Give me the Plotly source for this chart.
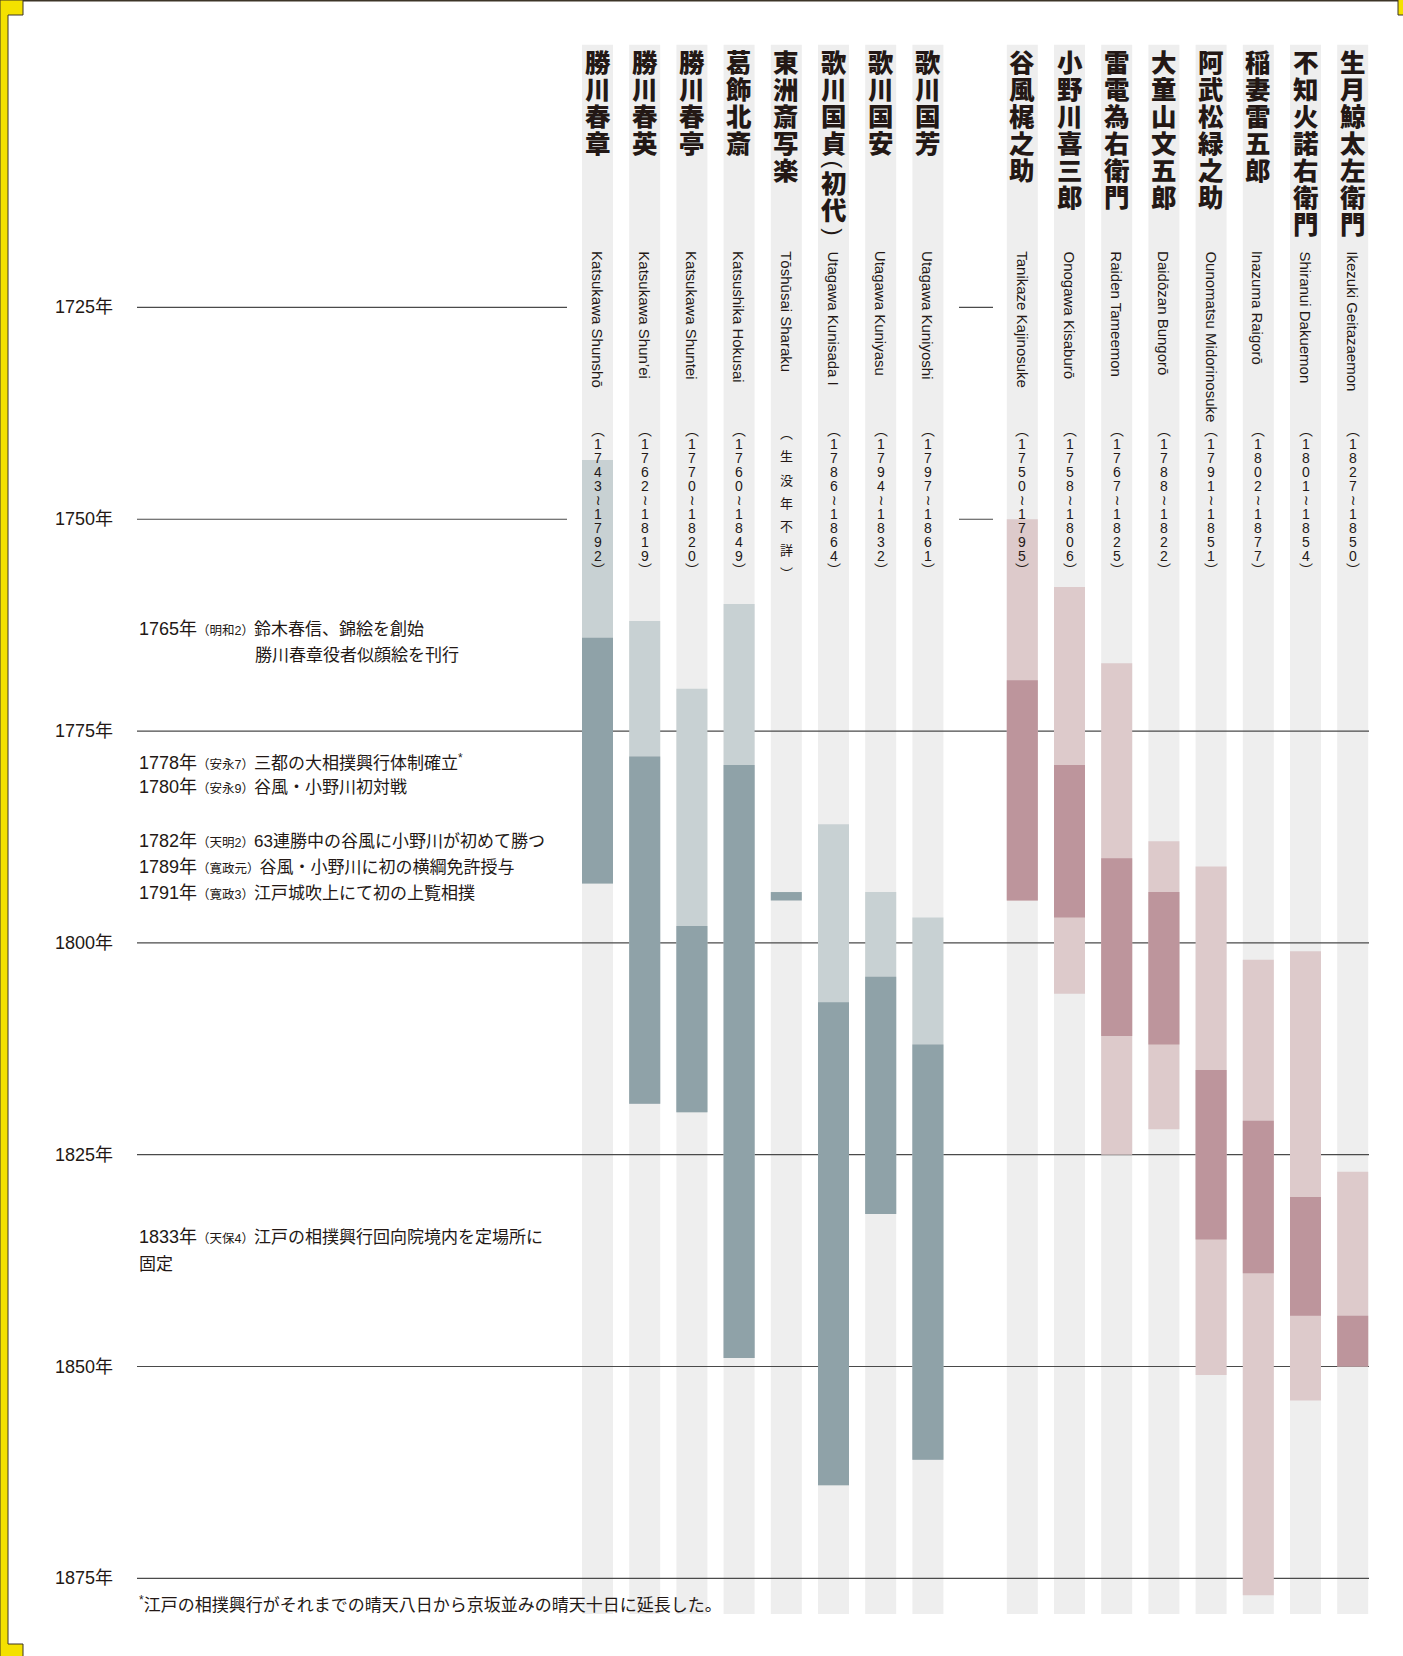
import plotly.graph_objects as go

W, H = 1403, 1656
INK = "#231815"
JP = "Noto Sans CJK JP"
NAMEF = "Liberation Serif, Noto Sans CJK JP"
LAT = "Liberation Sans, DejaVu Sans, Noto Sans CJK JP"

# ---------------- data ----------------
ukiyoe_names = ["勝川春章", "勝川春英", "勝川春亭", "葛飾北斎", "東洲斎写楽",
                "歌川国貞（初代）", "歌川国安", "歌川国芳"]
ukiyoe_romaji = ["Katsukawa Shunshō", "Katsukawa Shun’ei", "Katsukawa Shuntei",
                 "Katsushika Hokusai", "Tōshūsai Sharaku", "Utagawa Kunisada I",
                 "Utagawa Kuniyasu", "Utagawa Kuniyoshi"]
ukiyoe_dates = ["（1743～1792）", "（1762～1819）", "（1770～1820）", "（1760～1849）",
                "（生没年不詳）", "（1786～1864）", "（1794～1832）", "（1797～1861）"]
ukiyoe_life_start = [1743, 1762, 1770, 1760, None, 1786, 1794, 1797]
ukiyoe_life_end = [1793, 1819, 1820, 1849, None, 1864, 1832, 1861]
ukiyoe_active_start = [1764, 1778, 1798, 1779, 1794, 1807, 1804, 1812]
ukiyoe_active_end = [1793, 1819, 1820, 1849, 1795, 1864, 1832, 1861]

sumo_names = ["谷風梶之助", "小野川喜三郎", "雷電為右衛門", "大童山文五郎",
              "阿武松緑之助", "稲妻雷五郎", "不知火諾右衛門", "生月鯨太左衛門"]
sumo_romaji = ["Tanikaze Kajinosuke", "Onogawa Kisaburō", "Raiden Tameemon",
               "Daidōzan Bungorō", "Ounomatsu Midorinosuke", "Inazuma Raigorō",
               "Shiranui Dakuemon", "Ikezuki Geitazaemon"]
sumo_dates = ["（1750～1795）", "（1758～1806）", "（1767～1825）", "（1788～1822）",
              "（1791～1851）", "（1802～1877）", "（1801～1854）", "（1827～1850）"]
sumo_life_start = [1750, 1758, 1767, 1788, 1791, 1802, 1801, 1827]
sumo_life_end = [1795, 1806, 1825, 1822, 1851, 1877, 1854, 1850]
sumo_active_start = [1769, 1779, 1790, 1794, 1815, 1821, 1830, 1844]
sumo_active_end = [1795, 1797, 1811, 1812, 1835, 1839, 1844, 1850]

year_ticks = [1725, 1750, 1775, 1800, 1825, 1850, 1875]
tick_suffix = "年"
partial_grid_years = [1725, 1750]

event_years = ["1765年", "", "1778年", "1780年", "1782年", "1789年", "1791年", "1833年", ""]
event_eras = ["（明和2）", "", "（安永7）", "（安永9）", "（天明2）", "（寛政元）", "（寛政3）", "（天保4）", ""]
event_texts = ["鈴木春信、錦絵を創始", "勝川春章役者似顔絵を刊行", "三都の大相撲興行体制確立<sup>*</sup>",
               "谷風・小野川初対戦", "63連勝中の谷風に小野川が初めて勝つ", "谷風・小野川に初の横綱免許授与",
               "江戸城吹上にて初の上覧相撲", "江戸の相撲興行回向院境内を定場所に", "固定"]
footnote = "<sup>*</sup>江戸の相撲興行がそれまでの晴天八日から京坂並みの晴天十日に延長した。"

# ---------------- layout constants ----------------
ukiyoe_pos = list(range(0, 8))
sumo_pos = list(range(9, 17))
X0, DX = 597.5, 47.2          # pixel centre of column 0, pixel spacing
Y0, DY, YREF = 307.4, 8.473, 1725
BAR_W = 31 / DX
COL_TOP, COL_BOTTOM = 1694.0, 1879.2
LS = 1.3                       # plotly line spacing (em)

COL_UK_DARK, COL_UK_LIGHT = "#8fa2a8", "#c8d1d3"
COL_SU_DARK, COL_SU_LIGHT = "#bd959c", "#ddcacb"
COL_BG = "#eeeeee"
GRID = "#4a4a4a"
YELLOW = "#f4e100"
EDGE = "#3c3427"


def px_x(px):
    return (px - X0) / DX


def px_y(py):
    return YREF + (py - Y0) / DY


def pap_x(px):
    return px / W


def pap_y(py):
    return 1 - py / H


fig = go.Figure()


def bar_trace(pos, s, e, color):
    xs, bs, ls = [], [], []
    for p, a, b in zip(pos, s, e):
        if a is None:
            continue
        xs.append(p)
        bs.append(a)
        ls.append(b - a)
    return go.Bar(x=xs, y=ls, base=bs, width=BAR_W, marker=dict(color=color, line=dict(width=0)),
                  textposition="none", hoverinfo="skip", showlegend=False)


fig.add_trace(bar_trace(ukiyoe_pos, ukiyoe_life_start, ukiyoe_life_end, COL_UK_LIGHT))
fig.add_trace(bar_trace(ukiyoe_pos, ukiyoe_active_start, ukiyoe_active_end, COL_UK_DARK))
fig.add_trace(bar_trace(sumo_pos, sumo_life_start, sumo_life_end, COL_SU_LIGHT))
fig.add_trace(bar_trace(sumo_pos, sumo_active_start, sumo_active_end, COL_SU_DARK))

shapes = []
for p in ukiyoe_pos + sumo_pos:
    shapes.append(dict(type="rect", xref="x", yref="y", layer="below",
                       x0=p - BAR_W / 2, x1=p + BAR_W / 2, y0=COL_TOP, y1=COL_BOTTOM,
                       fillcolor=COL_BG, line=dict(width=0)))
for yv in year_ticks:
    if yv in partial_grid_years:
        segs = [(px_x(137), px_x(567)), (px_x(959), px_x(993))]
    else:
        segs = [(px_x(137), px_x(1369))]
    for a, b in segs:
        shapes.append(dict(type="line", xref="x", yref="y", layer="below",
                           x0=a, x1=b, y0=yv, y1=yv, line=dict(color=GRID, width=1.2)))

path = "M {} {} L {} {} L {} {} L {} {} L {} {} L {} {} L {} {} L {} {} Z".format(
    pap_x(0), pap_y(0), pap_x(23), pap_y(0), pap_x(23), pap_y(15), pap_x(8), pap_y(15),
    pap_x(8), pap_y(1644), pap_x(23), pap_y(1644), pap_x(23), pap_y(1657), pap_x(0), pap_y(1657))
shapes.append(dict(type="path", xref="paper", yref="paper", path=path, fillcolor=YELLOW,
                   line=dict(color=EDGE, width=1), layer="above"))
shapes.append(dict(type="rect", xref="paper", yref="paper", x0=pap_x(1398), x1=pap_x(1404),
                   y0=pap_y(15), y1=pap_y(-1), fillcolor=YELLOW, line=dict(color=EDGE, width=1)))
shapes.append(dict(type="line", xref="paper", yref="paper", x0=pap_x(23), x1=pap_x(1398),
                   y0=pap_y(0.8), y1=pap_y(0.8), line=dict(color=EDGE, width=1.6)))

ann = []
for yv in year_ticks:
    ann.append(dict(text=f"{yv}{tick_suffix}", x=pap_x(53), xref="paper", y=yv, yref="y",
                    xanchor="left", yanchor="middle", showarrow=False,
                    font=dict(family=LAT, size=18, color=INK)))


def stack(p, chars, first_c, pitch, glyph_size, family, weight=None):
    """one multi-line annotation: chars stacked vertically at the given pitch"""
    base = pitch / LS
    txt = "<br>".join(f"<span style='font-size:{glyph_size}px'>{c}</span>" for c in chars)
    centre = first_c + pitch * (len(chars) - 1) / 2
    f = dict(family=family, size=base, color=INK)
    if weight:
        f["weight"] = weight
    ann.append(dict(text=txt, x=p, xref="x", y=px_y(centre), yref="y", showarrow=False,
                    xanchor="center", yanchor="middle", align="center", font=f))


def add_name(p, text):
    pitch = 27.0
    cursor = 49.5
    seg, seg_first = [], None
    for ch in text:
        paren = ch in "（）"
        h = pitch / 2 if paren else pitch
        c = cursor + h / 2
        cursor += h
        if paren:
            if seg:
                stack(p, seg, seg_first, pitch, 25.5, NAMEF, 900)
                seg = []
            ann.append(dict(text="(" if ch == "（" else ")", x=p, xref="x", y=px_y(c), yref="y",
                            textangle=90, showarrow=False, xanchor="center", yanchor="middle",
                            font=dict(family=LAT, size=22, color=INK)))
        else:
            if not seg:
                seg_first = c
            seg.append(ch)
    if seg:
        stack(p, seg, seg_first, pitch, 25.5, NAMEF, 900)


def add_dates(p, text):
    inner = text[1:-1]
    numeric = inner[0].isdigit()
    chars = ["︵"] + ["≀" if c == "～" else c for c in inner] + ["︶"]
    if numeric:
        stack(p, chars, 429.5, 14.0, 14, LAT)
    else:
        stack(p, chars, 433.4, 23.3, 13, LAT)


for pos, names, romaji, dates in [(ukiyoe_pos, ukiyoe_names, ukiyoe_romaji, ukiyoe_dates),
                                  (sumo_pos, sumo_names, sumo_romaji, sumo_dates)]:
    for p, n, r, d in zip(pos, names, romaji, dates):
        add_name(p, n)
        ann.append(dict(text=r, x=p, xref="x", y=px_y(249), yref="y", textangle=90,
                        showarrow=False, xanchor="center", yanchor="top",
                        font=dict(family=LAT, size=15, color=INK)))
        add_dates(p, d)

ev_x = [137, 252.5, 137, 137, 137, 137, 137, 137, 137]
ev_y = [629, 655, 761.5, 787, 841, 866.5, 893, 1237, 1264]
for yr, era, txt, xx, yy in zip(event_years, event_eras, event_texts, ev_x, ev_y):
    s = ""
    if yr:
        s += f"<span style='font-size:18px'>{yr}</span>"
    if era:
        s += f"<span style='font-size:12.5px'>{era}</span>"
    s += txt
    ann.append(dict(text=s, x=pap_x(xx), xref="paper", y=pap_y(yy), yref="paper",
                    xanchor="left", yanchor="middle", showarrow=False, align="left",
                    font=dict(family=LAT, size=17, color=INK)))
ann.append(dict(text=footnote, x=pap_x(137), xref="paper", y=pap_y(1604), yref="paper",
                xanchor="left", yanchor="middle", showarrow=False,
                font=dict(family=LAT, size=17, color=INK)))

fig.update_layout(
    width=W, height=H, margin=dict(l=0, r=0, t=0, b=0, pad=0),
    paper_bgcolor="white", plot_bgcolor="white",
    barmode="overlay", showlegend=False, hovermode=False,
    xaxis=dict(range=[px_x(0), px_x(W)], visible=False, fixedrange=True),
    yaxis=dict(range=[px_y(H), px_y(0)], visible=False, fixedrange=True),
    shapes=shapes, annotations=ann,
)

fig.write_html("out.html", config={"displayModeBar": False},
               post_script="document.body.style.margin='0';document.body.style.overflow='hidden';")
